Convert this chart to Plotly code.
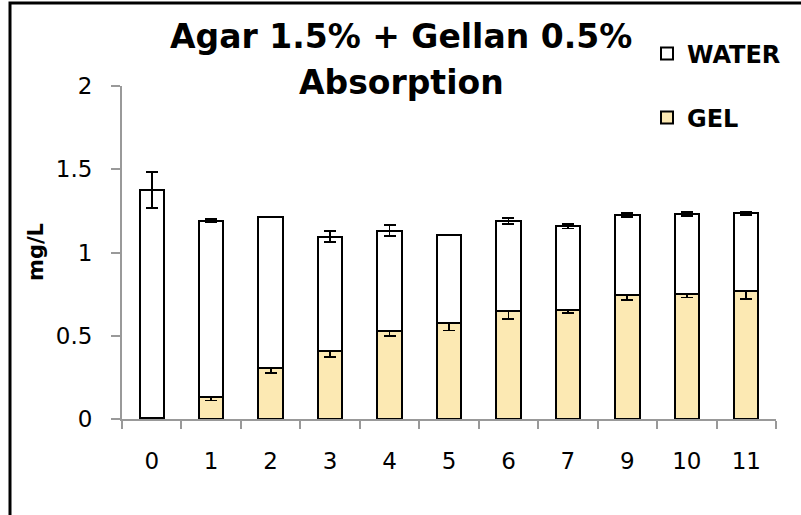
import plotly.graph_objects as go

categories = ["0", "1", "2", "3", "4", "5", "6", "7", "9", "10", "11"]
gel = [0.005, 0.133, 0.309, 0.406, 0.528, 0.576, 0.647, 0.655, 0.745, 0.751, 0.769]
gel_err = [0.0, 0.022, 0.034, 0.033, 0.03, 0.044, 0.047, 0.02, 0.028, 0.021, 0.048]
total = [1.375, 1.191, 1.213, 1.094, 1.131, 1.106, 1.19, 1.157, 1.225, 1.231, 1.235]
total_err = [0.11, 0.01, 0.0, 0.033, 0.032, 0.002, 0.019, 0.013, 0.012, 0.014, 0.01]
water = [t - g for t, g in zip(total, gel)]
title_lines = ["Agar 1.5% + Gellan 0.5%", "Absorption"]

FONT = "DejaVu Sans"
W, H = 801, 515
L, R, T, B = 122, 25, 86, 96
PW, PH = W - L - R, H - T - B


def px(x):
    return (x - L) / PW


def py(y):
    return (H - B - y) / PH


fig = go.Figure()
fig.add_trace(go.Bar(
    x=categories, y=gel, name="<b>GEL</b>", legend="legend3", showlegend=True,
    marker=dict(color="#FCE9B3", line=dict(color="black", width=2)),
    error_y=dict(type="data", array=gel_err, color="black", thickness=1.8, width=6),
))
fig.add_trace(go.Bar(
    x=categories, y=water, name="<b>WATER</b>", legend="legend2", showlegend=True,
    marker=dict(color="white", line=dict(color="black", width=2)),
    error_y=dict(type="data", array=total_err, color="black", thickness=1.8, width=6),
))

leg_common = dict(xref="container", yref="container", xanchor="left", yanchor="middle",
                  visible=True,
                  font=dict(family=FONT, size=24, color="black"), bgcolor="rgba(0,0,0,0)")

fig.update_layout(
    width=W, height=H, autosize=False, showlegend=True,
    barmode="stack", bargap=0.59,
    plot_bgcolor="white", paper_bgcolor="white",
    margin=dict(l=L, r=R, t=T, b=B, autoexpand=False),
    font=dict(family=FONT, color="black"),
    legend2=dict(x=647 / W, y=1 - 54 / H, **leg_common),
    legend3=dict(x=647 / W, y=1 - 118 / H, **leg_common),
    xaxis=dict(type="category", showline=True, linecolor="#999999", linewidth=2,
               ticks="outside", tickson="boundaries", ticklen=8, tickcolor="#999999",
               tickwidth=2, tickfont=dict(family=FONT, size=23), showgrid=False,
               ticklabelstandoff=20, automargin=False),
    yaxis=dict(range=[0, 2], tickvals=[0, 0.5, 1, 1.5, 2], ticktext=["0", "0.5", "1", "1.5", "2"],
               showline=True, linecolor="#999999", linewidth=2,
               ticks="outside", ticklen=9, tickcolor="#999999", tickwidth=2,
               ticklabelstandoff=14, automargin=False,
               tickfont=dict(family=FONT, size=23), showgrid=False, zeroline=False),
    annotations=[
        dict(text="<b>" + title_lines[0] + "</b>", xref="paper", yref="paper",
             x=px(401), y=py(36), xanchor="center", yanchor="middle", showarrow=False,
             font=dict(family=FONT, size=33, color="black")),
        dict(text="<b>" + title_lines[1] + "</b>", xref="paper", yref="paper",
             x=px(401), y=py(82), xanchor="center", yanchor="middle", showarrow=False,
             font=dict(family=FONT, size=33, color="black")),
        dict(text="<b>mg/L</b>", xref="paper", yref="paper", textangle=-90,
             x=px(36), y=py(252), xanchor="center", yanchor="middle", showarrow=False,
             font=dict(family=FONT, size=21, color="black")),
    ],
    shapes=[dict(type="rect", xref="paper", yref="paper",
                 x0=px(10), x1=px(815), y0=py(530), y1=py(3),
                 line=dict(color="black", width=3), fillcolor="rgba(0,0,0,0)", layer="below")],
)

fig.write_html("out.html", config={"displayModeBar": False},
               post_script="document.body.style.margin='0';")
